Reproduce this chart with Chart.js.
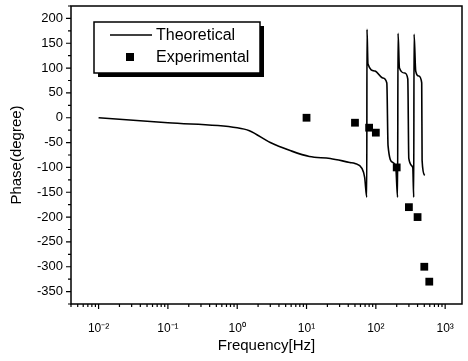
<!DOCTYPE html>
<html>
<head>
<meta charset="utf-8">
<script src="https://cdn.jsdelivr.net/npm/chart.js@4.4.1/dist/chart.umd.min.js"></script>
<style>
  html, body { margin: 0; padding: 0; background: #fff; }
  #wrap { width: 468px; height: 361px; }
</style>
</head>
<body>
<div id="wrap"><canvas id="phaseChart" width="468" height="361"></canvas></div>
<script>
// theoretical phase curve (Hz, degree)
const thFreq = [0.01, 0.1, 1, 1.5, 3, 5.8, 11, 22, 42, 50, 63, 69, 74, 74.5, 77, 97, 126, 144, 150, 176, 194, 206, 209, 219, 261, 289, 299, 341, 352, 356, 376, 416, 459, 465, 507];
const thPhase = [0, -10, -20, -26, -50, -66, -78, -82, -90, -92, -102, -120, -160, 178, 108, 94, 80, 70, -56, -90, -100, -160, 170, 100, 90, 78, -82, -100, -160, 168, 94, 84, 70, -86, -116];

// measured points
const expFreq = [10, 50, 80, 100, 200, 300, 400, 500, 590];
const expPhase = [0, -10, -20, -30, -100, -180, -200, -300, -330];

// axis ticks
const xDecades = [0.01, 0.1, 1, 10, 100, 1000];
const xLabels = ['10\u207B\u00B2', '10\u207B\u00B9', '10\u2070', '10\u00B9', '10\u00B2', '10\u00B3'];
const yTicks = [200, 150, 100, 50, 0, -50, -100, -150, -200, -250, -300, -350];

Chart.defaults.font.family = '"Liberation Sans", Arial, sans-serif';
Chart.defaults.color = '#000';

// box round the plot + outward tick marks
const frame = {
    id: 'frame',
    afterDraw(chart) {
        const {ctx, chartArea: a, scales} = chart;
        ctx.save();
        ctx.strokeStyle = '#000';
        ctx.lineWidth = 1.5;
        ctx.strokeRect(a.left, a.top, a.right - a.left, a.bottom - a.top);

        ctx.lineWidth = 1.2;
        ctx.beginPath();
        // x ticks
        for (let e = -3; e <= 3; e++) {
            for (let k = 1; k <= 9; k++) {
                const v = k * Math.pow(10, e);
                if (v < scales.x.min || v > scales.x.max) continue;
                const px = scales.x.getPixelForValue(v);
                const len = k === 1 ? 5 : 3;
                ctx.moveTo(px, a.bottom);
                ctx.lineTo(px, a.bottom + len);
            }
        }
        // y ticks
        for (let v = -375; v <= 225; v += 25) {
            const py = scales.y.getPixelForValue(v);
            const len = v % 50 === 0 ? 5 : 3;
            ctx.moveTo(a.left, py);
            ctx.lineTo(a.left - len, py);
        }
        ctx.stroke();
        ctx.restore();
    }
};

// legend box with shadow, inside the plot
const boxLegend = {
    id: 'boxLegend',
    afterDraw(chart) {
        const {ctx, chartArea: a} = chart;
        const ds = chart.data.datasets;
        const x = a.left + 23, y = a.top + 16, w = 166, h = 51;
        ctx.save();
        ctx.fillStyle = '#000';
        ctx.fillRect(x + 4, y + 4, w, h);
        ctx.fillStyle = '#fff';
        ctx.fillRect(x, y, w, h);
        ctx.strokeStyle = '#000';
        ctx.lineWidth = 1.5;
        ctx.strokeRect(x, y, w, h);

        ctx.beginPath();
        ctx.moveTo(x + 16, y + 13);
        ctx.lineTo(x + 58, y + 13);
        ctx.stroke();
        ctx.fillStyle = '#000';
        ctx.fillRect(x + 32, y + 31, 8, 8);

        ctx.font = '16px "Liberation Sans", Arial, sans-serif';
        ctx.textBaseline = 'middle';
        ctx.fillText(ds[0].label, x + 62, y + 14);
        ctx.fillText(ds[1].label, x + 62, y + 36);
        ctx.restore();
    }
};

const ctx = document.getElementById('phaseChart');
const phaseChart = new Chart(ctx, {
    type: 'scatter',
    data: {
        datasets: [
            {
                label: 'Theoretical',
                data: thFreq.map((f, i) => ({x: f, y: thPhase[i]})),
                showLine: true,
                borderColor: '#000',
                borderWidth: 1.6,
                pointRadius: 0,
                cubicInterpolationMode: 'monotone'
            },
            {
                label: 'Experimental',
                data: expFreq.map((f, i) => ({x: f, y: expPhase[i]})),
                showLine: false,
                pointStyle: 'rect',
                pointRadius: 5.5,
                backgroundColor: '#000',
                borderColor: '#000',
                borderWidth: 0
            }
        ]
    },
    options: {
        responsive: false,
        animation: false,
        layout: {padding: {top: 6, right: 6, left: 0, bottom: 0}},
        plugins: {
            legend: {display: false},
            tooltip: {enabled: false}
        },
        scales: {
            x: {
                type: 'logarithmic',
                min: 0.004,
                max: 1750,
                afterFit: (s) => { s.height = 57; s.paddingLeft = 0; s.paddingRight = 0; },
                afterBuildTicks: (s) => { s.ticks = xDecades.map(v => ({value: v})); },
                border: {display: false},
                grid: {display: false, drawTicks: false},
                ticks: {
                    autoSkip: false,
                    maxRotation: 0,
                    padding: 17,
                    font: {size: 12},
                    callback: (v) => {
                        const i = xDecades.findIndex(d => Math.abs(d - v) < d * 1e-6);
                        return i >= 0 ? xLabels[i] : '';
                    }
                },
                title: {
                    display: true,
                    text: 'Frequency[Hz]',
                    font: {size: 15},
                    padding: {top: 0, bottom: 6}
                }
            },
            y: {
                min: -375,
                max: 225,
                afterFit: (s) => { s.width = 71; s.paddingTop = 0; s.paddingBottom = 0; },
                afterBuildTicks: (s) => { s.ticks = yTicks.map(v => ({value: v})); },
                border: {display: false},
                grid: {display: false, drawTicks: false},
                ticks: {
                    autoSkip: false,
                    padding: 8,
                    font: {size: 13}
                },
                title: {
                    display: true,
                    text: 'Phase(degree)',
                    font: {size: 15},
                    padding: {top: 8, bottom: 0}
                }
            }
        }
    },
    plugins: [frame, boxLegend]
});
</script>
</body>
</html>
